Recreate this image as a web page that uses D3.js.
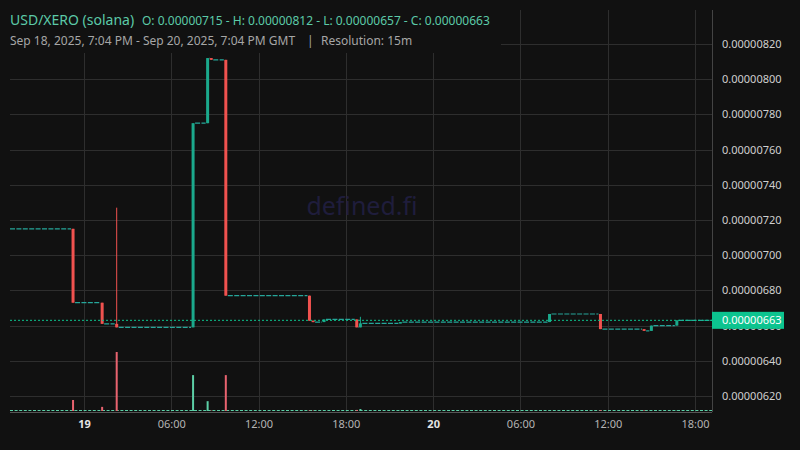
<!DOCTYPE html>
<html>
<head>
<meta charset="utf-8">
<script src="https://cdn.jsdelivr.net/npm/d3@7"></script>
<style>
  body { margin: 0; background: #111111; }
  svg { display: block; font-family: "Noto Sans", sans-serif; }
</style>
</head>
<body>
<svg id="chart" width="800" height="450"></svg>
<script>
// 15m candles that traded; in between the price sits flat at the last close
const candleTimes = [
  "2025-09-18T23:15:00Z", "2025-09-19T01:15:00Z", "2025-09-19T02:15:00Z",
  "2025-09-19T07:30:00Z", "2025-09-19T08:30:00Z", "2025-09-19T08:45:00Z",
  "2025-09-19T09:45:00Z", "2025-09-19T15:30:00Z", "2025-09-19T15:45:00Z",
  "2025-09-19T16:30:00Z", "2025-09-19T18:45:00Z", "2025-09-19T19:00:00Z",
  "2025-09-19T21:45:00Z", "2025-09-20T08:00:00Z", "2025-09-20T11:30:00Z",
  "2025-09-20T14:30:00Z", "2025-09-20T15:00:00Z", "2025-09-20T16:45:00Z"
];
const opens  = [7.15, 6.73, 6.61, 6.59, 7.75, 8.12, 8.11, 6.77, 6.628, 6.62, 6.635, 6.59, 6.613, 6.62, 6.666, 6.58, 6.57, 6.60];
const highs  = [7.15, 6.73, 7.27, 7.75, 8.12, 8.12, 8.11, 6.77, 6.628, 6.635, 6.635, 6.65, 6.62, 6.666, 6.666, 6.58, 6.60, 6.63];
const lows   = [6.73, 6.61, 6.59, 6.59, 7.75, 8.11, 6.77, 6.628, 6.62, 6.62, 6.59, 6.59, 6.613, 6.62, 6.58, 6.57, 6.57, 6.60];
const closes = [6.73, 6.61, 6.59, 7.75, 8.12, 8.11, 6.77, 6.628, 6.62, 6.635, 6.59, 6.613, 6.62, 6.666, 6.58, 6.57, 6.60, 6.63];
const volumes = [1120, 420, 6000, 3650, 1000, 40, 3650, 60, 30, 30, 110, 200, 20, 40, 100, 60, 20, 30];
const priceUnit = 1e-6; // values above are in millionths of a dollar

const priceTicks = [6.2, 6.4, 6.6, 6.8, 7.0, 7.2, 7.4, 7.6, 7.8, 8.0, 8.2];
const timeTicks = [
  "2025-09-19T00:00:00Z", "2025-09-19T06:00:00Z", "2025-09-19T12:00:00Z", "2025-09-19T18:00:00Z",
  "2025-09-20T00:00:00Z", "2025-09-20T06:00:00Z", "2025-09-20T12:00:00Z", "2025-09-20T18:00:00Z"
];
const timeTickLabels = ["19", "06:00", "12:00", "18:00", "20", "06:00", "12:00", "18:00"];
const dayTicks = ["19", "20"];

const viewStart = new Date("2025-09-18T18:55:00Z");
const viewEnd = new Date("2025-09-20T19:10:00Z");

const upColor = "#1ba98c";
const downColor = "#f0524f";
const flatColor = "#26a69a";
const lastColor = "#0cc48f";

const plotLeft = 10, plotRight = 712, plotTop = 10, plotBottom = 412;

const svg = d3.select("#chart");
svg.append("rect").attr("width", 800).attr("height", 450).attr("fill", "#111111");

const x = d3.scaleUtc([viewStart, viewEnd], [plotLeft, plotRight]);
const y = d3.scaleLinear([6.2, 8.2], [396, 44]);
const vol = d3.scaleLinear([0, d3.max(volumes)], [411, 352]);

const times = candleTimes.map(t => new Date(t));
const tickDates = timeTicks.map(t => new Date(t));
const barW = 3;

// grid
svg.append("g")
  .selectAll("line")
  .data(priceTicks)
  .join("line")
  .attr("x1", plotLeft).attr("x2", plotRight)
  .attr("y1", d => Math.round(y(d)) + 0.5).attr("y2", d => Math.round(y(d)) + 0.5)
  .attr("stroke", "#2e2e2e");

svg.append("g")
  .selectAll("line")
  .data(tickDates)
  .join("line")
  .attr("x1", d => Math.round(x(d)) + 0.5).attr("x2", d => Math.round(x(d)) + 0.5)
  .attr("y1", plotTop).attr("y2", plotBottom)
  .attr("stroke", "#2e2e2e");

// watermark
svg.append("text")
  .attr("x", 362).attr("y", 215)
  .attr("text-anchor", "middle")
  .attr("font-size", 25)
  .attr("fill", "#1f1d3c")
  .text("defined.fi");

svg.append("clipPath").attr("id", "plotClip")
  .append("rect")
  .attr("x", plotLeft).attr("y", plotTop)
  .attr("width", plotRight - plotLeft).attr("height", plotBottom - plotTop);

const plot = svg.append("g").attr("clip-path", "url(#plotClip)");

// flat (no trade) stretches between the traded candles
let segStarts = [viewStart].concat(times);
let segEnds = times.concat([viewEnd]);
let segLevels = [opens[0]].concat(closes);
let segments = segLevels.map((lvl, i) => ({ start: segStarts[i], end: segEnds[i], level: lvl }));

plot.append("g")
  .selectAll("line")
  .data(segments)
  .join("line")
  .attr("x1", (d, i) => i === 0 ? plotLeft : x(d.start) + barW / 2 + 0.5)
  .attr("x2", (d, i) => i === segments.length - 1 ? plotRight : x(d.end) - barW / 2 - 0.5)
  .attr("y1", d => y(d.level)).attr("y2", d => y(d.level))
  .attr("stroke", flatColor)
  .attr("stroke-width", 1.2)
  .attr("stroke-dasharray", "5,1.4");

// volume bars
plot.append("line")
  .attr("x1", plotLeft).attr("x2", plotRight)
  .attr("y1", vol(0) - 0.5).attr("y2", vol(0) - 0.5)
  .attr("stroke", "#5ccfa6")
  .attr("stroke-width", 1)
  .attr("stroke-dasharray", "3,1.6");

plot.append("g")
  .selectAll("rect")
  .data(volumes)
  .join("rect")
  .attr("x", (d, i) => x(times[i]) - 1)
  .attr("width", 2)
  .attr("y", d => vol(d))
  .attr("height", d => vol(0) - vol(d))
  .attr("fill", (d, i) => closes[i] >= opens[i] ? "#5ccfa6" : "#e8636f");

// candles
const candles = plot.append("g")
  .selectAll("g")
  .data(times)
  .join("g");

candles.append("line")
  .attr("x1", d => x(d)).attr("x2", d => x(d))
  .attr("y1", (d, i) => y(highs[i])).attr("y2", (d, i) => y(lows[i]))
  .attr("stroke", (d, i) => closes[i] >= opens[i] ? upColor : downColor)
  .attr("stroke-width", 1);

candles.append("rect")
  .attr("x", d => x(d) - barW / 2)
  .attr("width", barW)
  .attr("y", (d, i) => y(Math.max(opens[i], closes[i])))
  .attr("height", (d, i) => Math.max(1.5, Math.abs(y(opens[i]) - y(closes[i]))))
  .attr("fill", (d, i) => closes[i] >= opens[i] ? upColor : downColor);

// last price line
const lastClose = closes[closes.length - 1];
plot.append("line")
  .attr("x1", plotLeft).attr("x2", plotRight)
  .attr("y1", y(lastClose)).attr("y2", y(lastClose))
  .attr("stroke", lastColor)
  .attr("stroke-width", 1)
  .attr("stroke-dasharray", "2,2");

// bottom border and right price scale border
svg.append("line")
  .attr("x1", plotLeft).attr("x2", plotRight)
  .attr("y1", plotBottom + 0.5).attr("y2", plotBottom + 0.5)
  .attr("stroke", "#555555");
svg.append("line")
  .attr("x1", plotRight + 0.5).attr("x2", plotRight + 0.5)
  .attr("y1", plotTop).attr("y2", plotBottom)
  .attr("stroke", "#444444");

// price axis
const fmt = d3.format(".8f");
svg.append("g")
  .attr("transform", `translate(${plotRight},0)`)
  .call(d3.axisRight(y).tickValues(priceTicks).tickSize(0).tickPadding(10)
    .tickFormat(d => fmt(d * priceUnit)))
  .call(g => g.select(".domain").remove())
  .call(g => g.selectAll("text")
    .attr("fill", "#cfcfcf")
    .attr("font-size", 11)
    .attr("font-family", "Noto Sans, sans-serif"));

// time axis
svg.append("g")
  .attr("transform", `translate(0,${plotBottom})`)
  .call(d3.axisBottom(x).tickValues(tickDates).tickSize(0).tickPadding(8)
    .tickFormat((d, i) => timeTickLabels[i]))
  .call(g => g.select(".domain").remove())
  .call(g => g.selectAll("text")
    .attr("fill", (d, i) => dayTicks.includes(timeTickLabels[i]) ? "#e4e4e4" : "#b4b4b4")
    .attr("font-weight", (d, i) => dayTicks.includes(timeTickLabels[i]) ? 700 : 400)
    .attr("font-size", 11)
    .attr("font-family", "Noto Sans, sans-serif"));

// last price label
const labelG = svg.append("g").attr("transform", `translate(${plotRight},${y(lastClose)})`);
labelG.append("rect")
  .attr("x", 0).attr("y", -8.5)
  .attr("width", 72).attr("height", 17)
  .attr("fill", lastColor);
labelG.append("text")
  .attr("x", 10).attr("dy", "0.35em")
  .attr("font-size", 11)
  .attr("fill", "#ffffff")
  .text(fmt(lastClose * priceUnit));

// legend header (sits on its own background over the grid)
svg.append("rect").attr("x", 0).attr("y", 0).attr("width", 501).attr("height", 53).attr("fill", "#111111");

const legendColor = "#5ccaa8";
svg.append("text")
  .attr("x", 10).attr("y", 25)
  .attr("font-size", 14)
  .attr("fill", legendColor)
  .text("USD/XERO (solana)");

const headerOpen = opens[0], headerClose = lastClose;
const headerHigh = d3.max(highs), headerLow = d3.min(lows);
svg.append("text")
  .attr("x", 142).attr("y", 25)
  .attr("font-size", 12)
  .attr("fill", legendColor)
  .text(`O: ${fmt(headerOpen * priceUnit)} - H: ${fmt(headerHigh * priceUnit)} - L: ${fmt(headerLow * priceUnit)} - C: ${fmt(headerClose * priceUnit)}`);

svg.append("text")
  .attr("x", 10).attr("y", 45)
  .attr("font-size", 12)
  .attr("fill", "#a6a6a6")
  .text("Sep 18, 2025, 7:04 PM - Sep 20, 2025, 7:04 PM GMT");
svg.append("text")
  .attr("x", 307).attr("y", 45)
  .attr("font-size", 12)
  .attr("fill", "#a6a6a6")
  .text("|");
svg.append("text")
  .attr("x", 321).attr("y", 45)
  .attr("font-size", 12)
  .attr("fill", "#a6a6a6")
  .text("Resolution: 15m");
</script>
</body>
</html>
